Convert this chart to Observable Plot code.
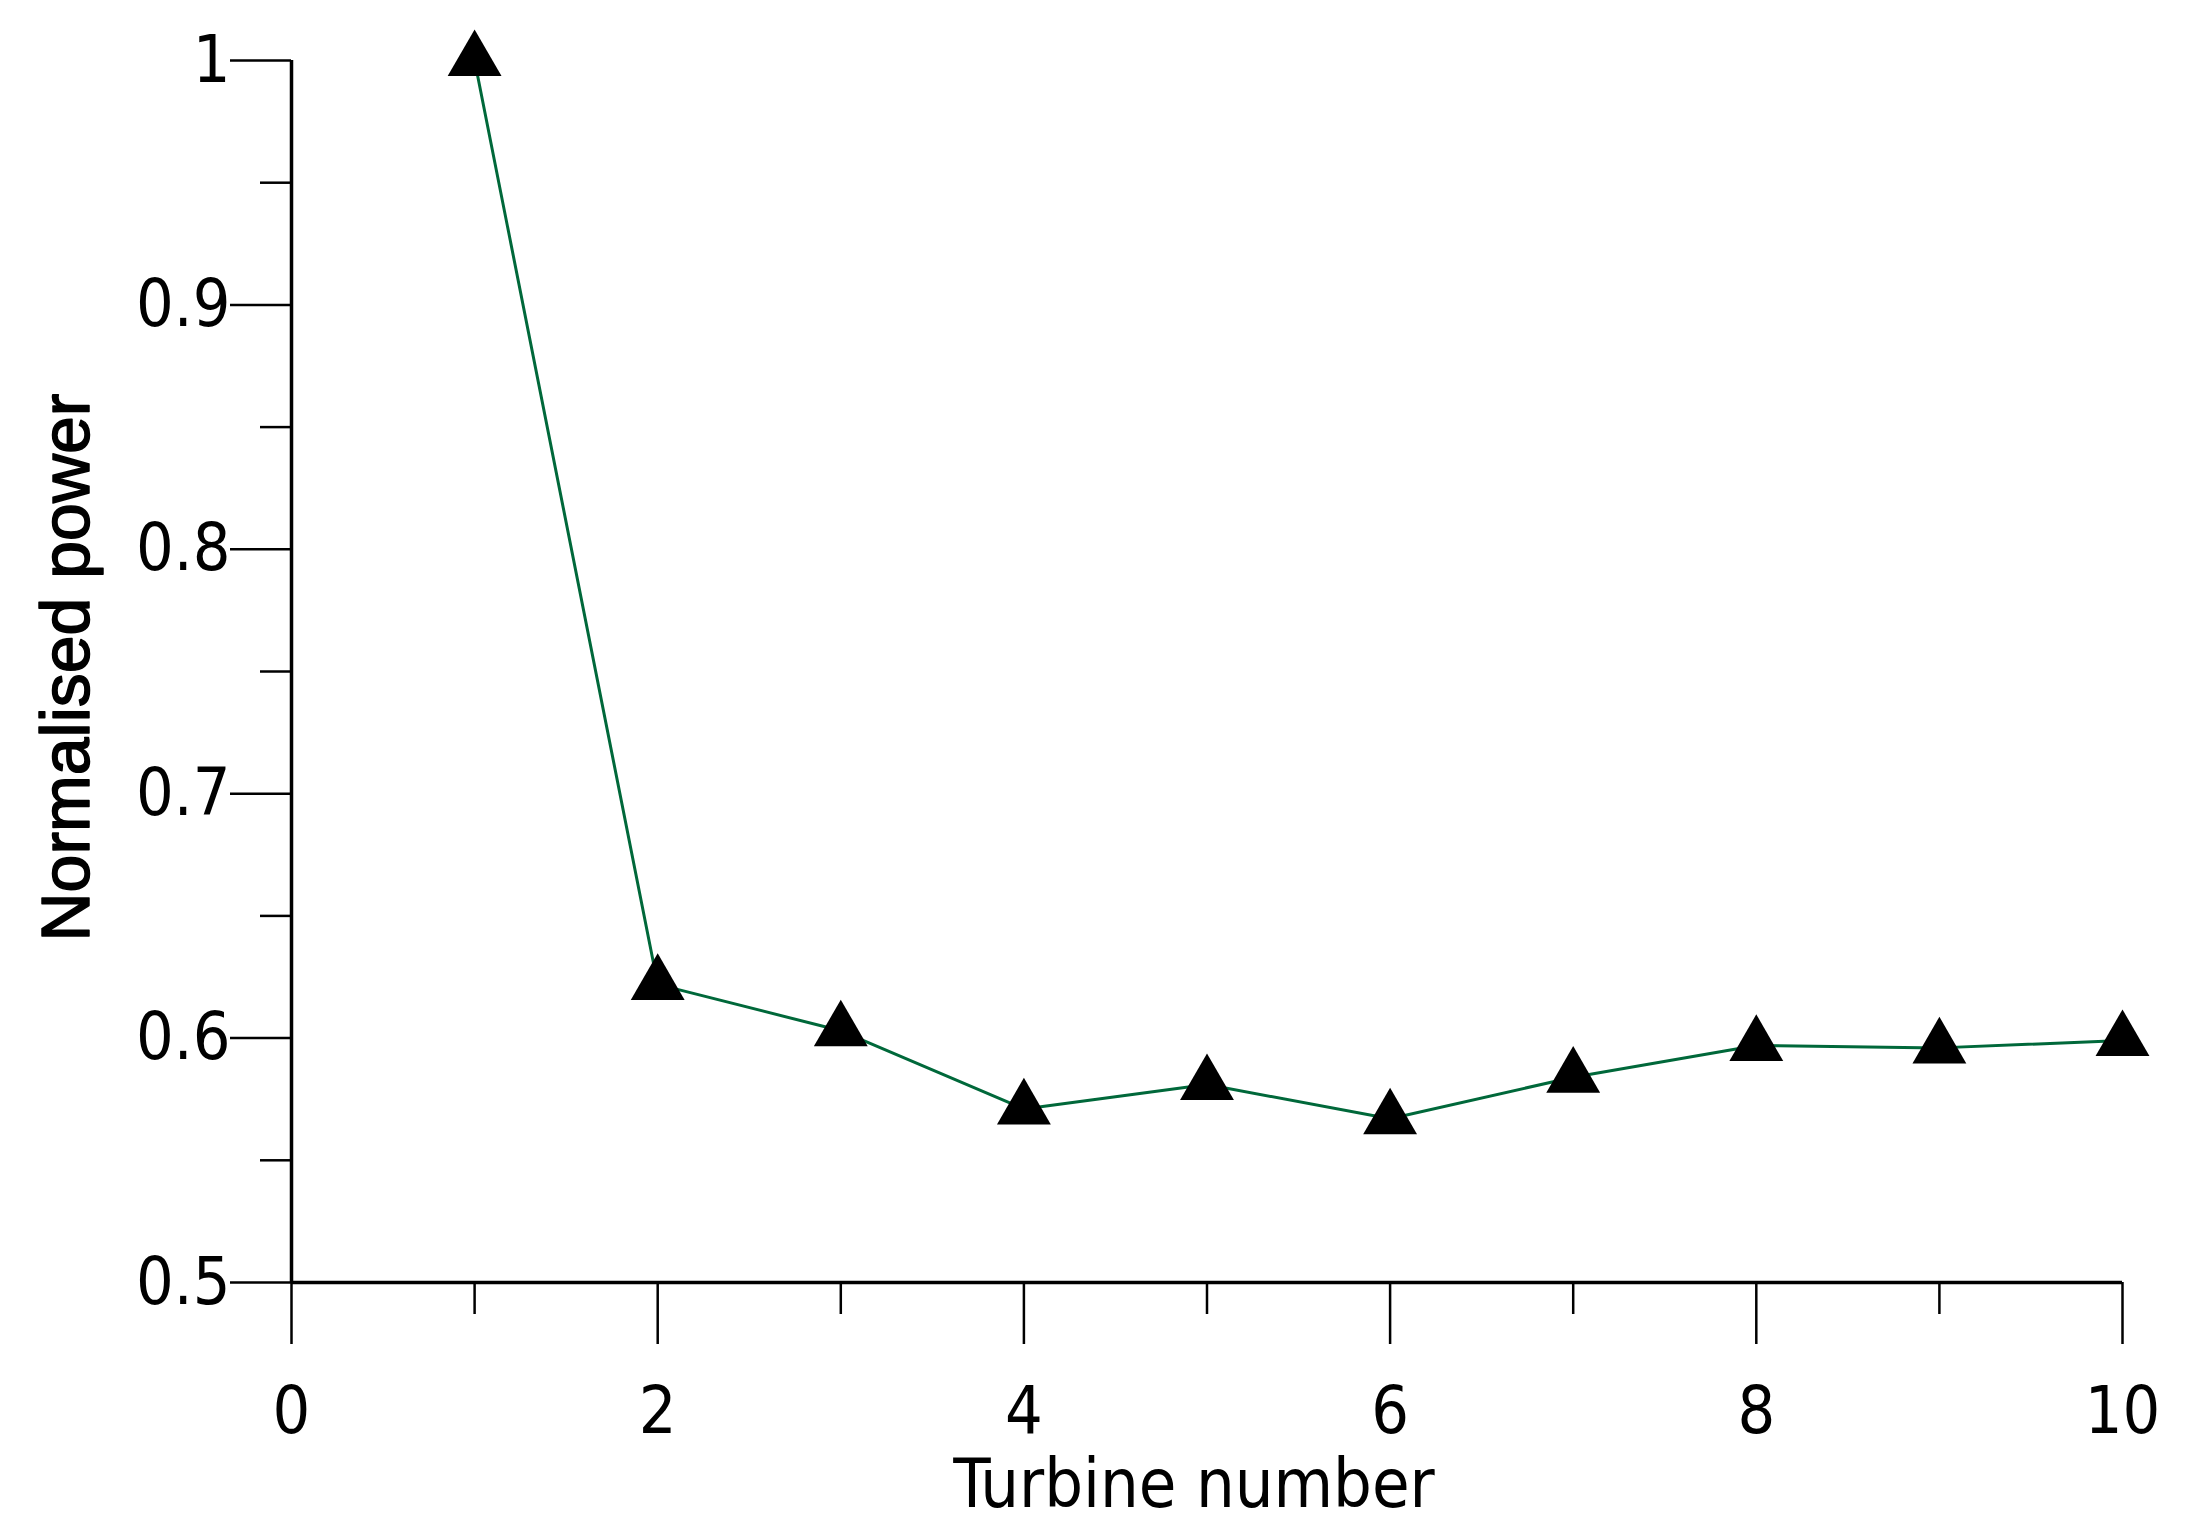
<!DOCTYPE html>
<html>
<head>
<meta charset="utf-8">
<script src="https://cdn.jsdelivr.net/npm/d3@7"></script>
<script src="https://cdn.jsdelivr.net/npm/@observablehq/plot@0.6"></script>
<style>
  html, body { margin: 0; padding: 0; background: #ffffff; }
  svg { display: block; }
</style>
</head>
<body>
<div id="chart"></div>
<script>
const turbine = [1, 2, 3, 4, 5, 6, 7, 8, 9, 10];
const power = [1.0, 0.622, 0.603, 0.571, 0.581, 0.567, 0.584, 0.597, 0.596, 0.599];

const xMajorTicks = [0, 2, 4, 6, 8, 10];
const xMinorTicks = [1, 3, 5, 7, 9];
const yMajorTicks = [0.5, 0.6, 0.7, 0.8, 0.9, 1.0];
const yTickLabels = ["0.5", "0.6", "0.7", "0.8", "0.9", "1"];
const yMinorTicks = [0.55, 0.65, 0.75, 0.85, 0.95];

const xLabel = "Turbine number";
const yLabel = "Normalised power";

const data = turbine.map((t, i) => ({turbine: t, power: power[i]}));
const tickFont = '"DejaVu Sans Condensed", "DejaVu Sans", sans-serif';

const chart = Plot.plot({
  width: 2204,
  height: 1539,
  marginLeft: 291,
  marginRight: 82,
  marginTop: 60,
  marginBottom: 257,
  style: {fontFamily: tickFont, fontSize: "66px", background: "#ffffff", color: "#000000"},
  x: {domain: [0, 10]},
  y: {domain: [0.5, 1]},
  marks: [
    Plot.axisY({ticks: yMinorTicks, tickSize: 31, strokeWidth: 2.5, text: null, label: null}),
    Plot.axisY({ticks: yMajorTicks, tickSize: 61, tickPadding: 0, strokeWidth: 2.5,
      tickFormat: d => yTickLabels[yMajorTicks.indexOf(d)], fontSize: 66, label: null}),
    Plot.axisX({ticks: xMinorTicks, tickSize: 32, strokeWidth: 2.5, text: null, label: null}),
    Plot.axisX({ticks: xMajorTicks, tickSize: 62, tickPadding: 42, strokeWidth: 2.5,
      tickFormat: d => String(d), fontSize: 66, label: null}),
    Plot.ruleY([0.5], {stroke: "#000000", strokeWidth: 3.5}),
    Plot.ruleX([0], {stroke: "#000000", strokeWidth: 3.5}),
    Plot.line(data, {x: "turbine", y: "power", stroke: "#00683a", strokeWidth: 3}),
    Plot.dot(data, {x: "turbine", y: "power", symbol: "triangle", r: 20, fill: "#000000", stroke: "none"}),
    Plot.text([xLabel], {frameAnchor: "bottom", textAnchor: "middle", dx: -13, dy: 203, lineAnchor: "middle",
      fontSize: 68, fontFamily: tickFont, fill: "#000000"}),
    Plot.text([yLabel], {frameAnchor: "left", textAnchor: "middle", rotate: -90, dx: -224, dy: -4, lineAnchor: "middle",
      fontSize: 68, fontFamily: '"Liberation Sans", Arial, sans-serif', fill: "#000000",
      stroke: "#000000", strokeWidth: 1.5})
  ]
});

document.getElementById("chart").appendChild(chart);
</script>
</body>
</html>
